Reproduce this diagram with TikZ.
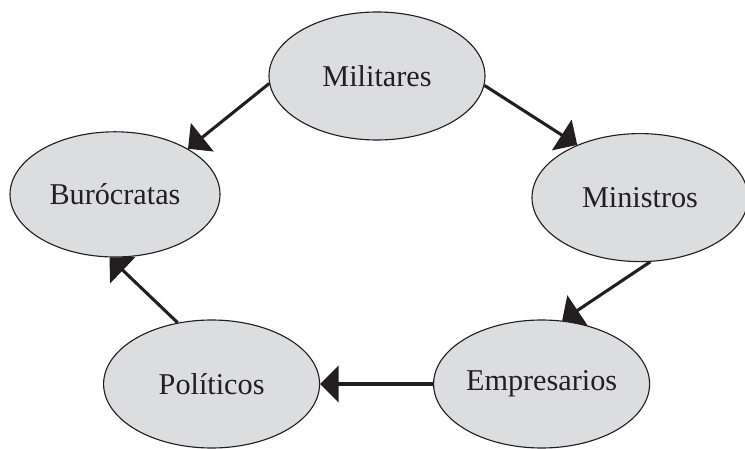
\documentclass[tikz,border=0pt]{standalone}
\usepackage{fontspec}
\setmainfont{Liberation Serif}
\usetikzlibrary{arrows.meta, shapes.geometric}
\definecolor{ellgray}{RGB}{220,221,223}
\definecolor{inkblack}{RGB}{35,31,32}

\begin{document}
\begin{tikzpicture}
		\tikzstyle{GroupName} = [ellipse, minimum width=5.4cm, minimum height=3.2cm, inner sep=0pt, text centered, draw=inkblack, line width=0.8pt, fill=ellgray, text=inkblack, font=\fontsize{21.5}{25}\selectfont]
		\tikzstyle{arrow} = [line width=2.2pt, draw=inkblack, -{Triangle[length=0.46cm, width=0.9cm]}]
		
		\useasboundingbox (0,0) rectangle (18.625,11.2);
		
		\node (mil) [GroupName] at (9.425,9.3) {Militares};
		\node (bur) [GroupName, minimum width=5.25cm, minimum height=3.13cm] at (2.875,6.34) {Burócratas};
		\node (min) [GroupName] at (16.0,6.26) {Ministros};
		\node (emp) [GroupName] at (13.54,1.6) {Empresarios};
		\node (pol) [GroupName] at (5.29,1.6) {Políticos};
		
		\draw[arrow] (mil.184) -- (bur.32);
		\draw[arrow] (mil.355) -- (min.140);
		\draw[arrow] (min.279) -- (emp.72);
		\draw[arrow] (emp.west) -- (pol.east);
		\draw[arrow] (pol.119) -- (bur.265);
		\end{tikzpicture}
\end{document}
